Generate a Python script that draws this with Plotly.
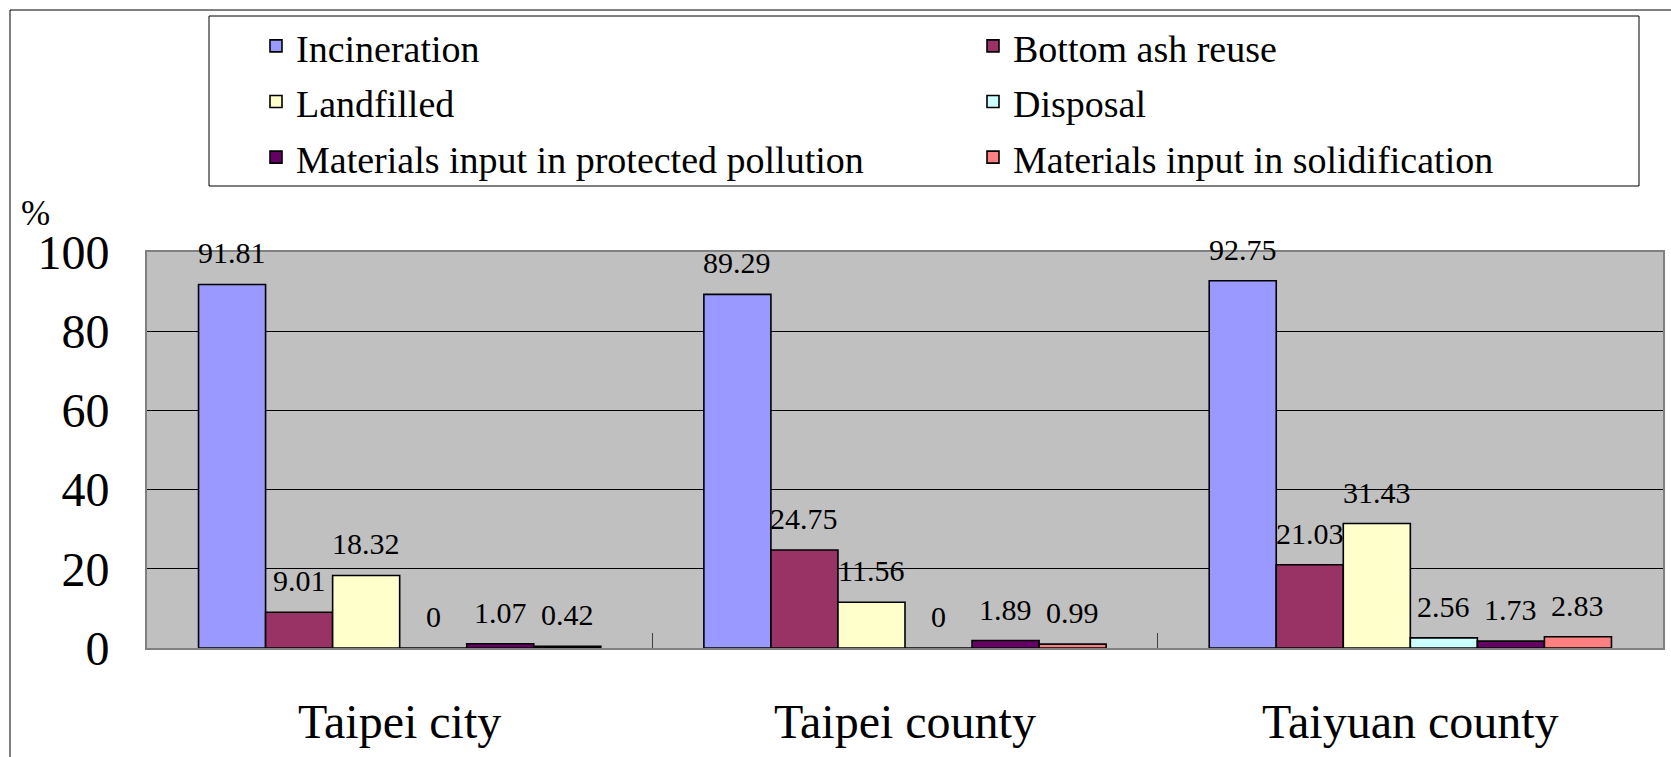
import plotly.graph_objects as go

# ---------------- data ----------------
categories = ["Taipei city", "Taipei county", "Taiyuan county"]
series_names = ["Incineration", "Bottom ash reuse", "Landfilled", "Disposal",
                "Materials input in protected pollution", "Materials input in solidification"]
incineration = [91.81, 89.29, 92.75]
bottom_ash_reuse = [9.01, 24.75, 21.03]
landfilled = [18.32, 11.56, 31.43]
disposal = [0, 0, 2.56]
protected_pollution = [1.07, 1.89, 1.73]
solidification = [0.42, 0.99, 2.83]
y_ticks = [0, 20, 40, 60, 80, 100]
y_unit = "%"

series_values = [incineration, bottom_ash_reuse, landfilled, disposal,
                 protected_pollution, solidification]
colors = ["#9999FF", "#993366", "#FFFFCC", "#CCFFFF", "#660066", "#FF8080"]

# ---------------- layout constants ----------------
W, H = 1671, 757
ML, MR, MT, MB = 147, 8, 252, 109
PW, PH = W - ML - MR, H - MT - MB
BARGAP = 0.204
FONT = "Liberation Serif, 'Times New Roman', serif"
LEGEND_TEXT_SIZE = 38     # visible legend text size
LEGEND_ROW_SIZE = 40.5    # controls legend row spacing


def px_x(px):
    return (px - ML) / PW


def px_y(py):
    return (H - MB - py) / PH


fig = go.Figure()
for name, vals, col in zip(series_names, series_values, colors):
    fig.add_trace(go.Bar(
        name=f'<span style="font-size:{LEGEND_TEXT_SIZE}px">{name}</span>',
        x=categories, y=vals,
        marker=dict(color=col, line=dict(color="black", width=1.6)),
    ))

# data labels above bars
n = len(series_names)
cat_w = PW / len(categories)
bar_w = cat_w * (1 - BARGAP) / n
annotations = []
for i, vals in enumerate(series_values):
    for c, v in zip(categories, vals):
        annotations.append(dict(
            x=c, y=v, xref="x", yref="y", text=f"{v:g}", showarrow=False,
            xshift=(i - (n - 1) / 2) * bar_w, yshift=13, yanchor="bottom",
            font=dict(family=FONT, size=30, color="black"),
        ))

annotations.append(dict(
    x=px_x(36), y=px_y(213), xref="paper", yref="paper", text=y_unit,
    showarrow=False, xanchor="center", yanchor="middle",
    font=dict(family=FONT, size=35, color="black"),
))

shapes = [
    # outer chart border
    dict(type="rect", xref="paper", yref="paper",
         x0=px_x(10), x1=px_x(W + 20), y0=px_y(H + 20), y1=px_y(10),
         line=dict(color="black", width=1), fillcolor="rgba(0,0,0,0)", layer="below"),
    # legend box
    dict(type="rect", xref="paper", yref="paper",
         x0=px_x(209), x1=px_x(1639), y0=px_y(186), y1=px_y(16),
         line=dict(color="black", width=1), fillcolor="white", layer="below"),
]

fig.update_layout(
    width=W, height=H,
    margin=dict(l=ML, r=MR, t=MT, b=MB, autoexpand=False),
    paper_bgcolor="white", plot_bgcolor="#C0C0C0",
    barmode="group", bargap=BARGAP, bargroupgap=0,
    font=dict(family=FONT, color="black"),
    showlegend=True,
    legend=dict(
        orientation="h", x=px_x(256), xanchor="left", y=px_y(13), yanchor="top",
        entrywidth=672, entrywidthmode="pixels",
        font=dict(family=FONT, size=LEGEND_ROW_SIZE, color="black"),
        bgcolor="rgba(0,0,0,0)", borderwidth=0, traceorder="normal",
    ),
    xaxis=dict(
        type="category", showgrid=False, tickson="boundaries",
        ticks="inside", ticklen=15, tickcolor="#404040", tickwidth=1,
        showline=True, linecolor="#808080", linewidth=2, mirror=True,
        tickfont=dict(family=FONT, size=48, color="black"),
        ticklabelstandoff=30,
    ),
    yaxis=dict(
        range=[0, 100], tickvals=y_ticks, ticktext=[str(t) for t in y_ticks],
        showgrid=True, gridcolor="black", gridwidth=1, zeroline=False,
        ticks="inside", ticklen=15, tickcolor="black",
        showline=True, linecolor="#808080", linewidth=2, mirror=True,
        tickfont=dict(family=FONT, size=48, color="black"),
        ticklabelstandoff=26,
    ),
    annotations=annotations,
    shapes=shapes,
)

fig.write_html("out.html", config={"displayModeBar": False},
               post_script="document.body.style.margin='0px';")
